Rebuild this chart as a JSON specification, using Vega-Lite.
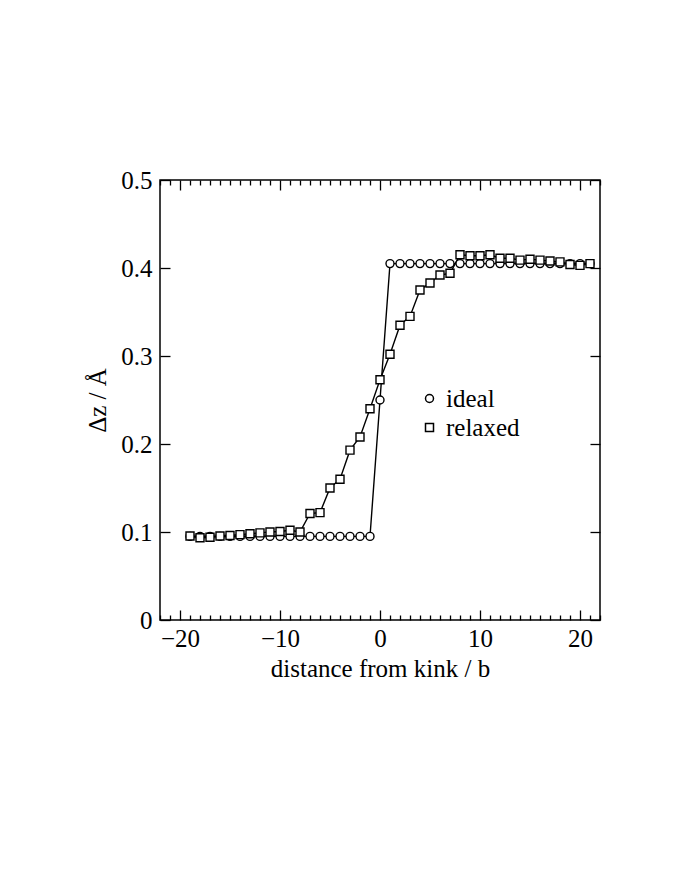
{
  "$schema": "https://vega.github.io/schema/vega-lite/v6.json",
  "autosize": "none",
  "width": 440,
  "height": 440,
  "padding": {"left": 160, "top": 180, "right": 80, "bottom": 260},
  "background": "white",
  "config": {
    "font": "Liberation Serif",
    "view": {"stroke": "black", "strokeWidth": 1.5},
    "axis": {"domain": false, "grid": false, "tickColor": "black", "tickWidth": 1.3, "labelColor": "black", "titleColor": "black", "labelFont": "Liberation Serif", "titleFont": "Liberation Serif", "labelFontSize": 25, "titleFontSize": 25, "titleFontWeight": "normal"},
    "legend": {"labelFont": "Liberation Serif", "labelFontSize": 25, "labelColor": "black"}
  },
  "data": {
    "values": [
      {"x": -19, "dz": 0.095, "series": "ideal"},
      {"x": -18, "dz": 0.095, "series": "ideal"},
      {"x": -17, "dz": 0.095, "series": "ideal"},
      {"x": -16, "dz": 0.095, "series": "ideal"},
      {"x": -15, "dz": 0.095, "series": "ideal"},
      {"x": -14, "dz": 0.095, "series": "ideal"},
      {"x": -13, "dz": 0.095, "series": "ideal"},
      {"x": -12, "dz": 0.095, "series": "ideal"},
      {"x": -11, "dz": 0.095, "series": "ideal"},
      {"x": -10, "dz": 0.095, "series": "ideal"},
      {"x": -9, "dz": 0.095, "series": "ideal"},
      {"x": -8, "dz": 0.095, "series": "ideal"},
      {"x": -7, "dz": 0.095, "series": "ideal"},
      {"x": -6, "dz": 0.095, "series": "ideal"},
      {"x": -5, "dz": 0.095, "series": "ideal"},
      {"x": -4, "dz": 0.095, "series": "ideal"},
      {"x": -3, "dz": 0.095, "series": "ideal"},
      {"x": -2, "dz": 0.095, "series": "ideal"},
      {"x": -1, "dz": 0.095, "series": "ideal"},
      {"x": 0, "dz": 0.25, "series": "ideal"},
      {"x": 1, "dz": 0.405, "series": "ideal"},
      {"x": 2, "dz": 0.405, "series": "ideal"},
      {"x": 3, "dz": 0.405, "series": "ideal"},
      {"x": 4, "dz": 0.405, "series": "ideal"},
      {"x": 5, "dz": 0.405, "series": "ideal"},
      {"x": 6, "dz": 0.405, "series": "ideal"},
      {"x": 7, "dz": 0.405, "series": "ideal"},
      {"x": 8, "dz": 0.405, "series": "ideal"},
      {"x": 9, "dz": 0.405, "series": "ideal"},
      {"x": 10, "dz": 0.405, "series": "ideal"},
      {"x": 11, "dz": 0.405, "series": "ideal"},
      {"x": 12, "dz": 0.405, "series": "ideal"},
      {"x": 13, "dz": 0.405, "series": "ideal"},
      {"x": 14, "dz": 0.405, "series": "ideal"},
      {"x": 15, "dz": 0.405, "series": "ideal"},
      {"x": 16, "dz": 0.405, "series": "ideal"},
      {"x": 17, "dz": 0.405, "series": "ideal"},
      {"x": 18, "dz": 0.405, "series": "ideal"},
      {"x": 19, "dz": 0.405, "series": "ideal"},
      {"x": 20, "dz": 0.405, "series": "ideal"},
      {"x": 21, "dz": 0.405, "series": "ideal"},
      {"x": -19, "dz": 0.0955, "series": "relaxed"},
      {"x": -18, "dz": 0.0935, "series": "relaxed"},
      {"x": -17, "dz": 0.094, "series": "relaxed"},
      {"x": -16, "dz": 0.0955, "series": "relaxed"},
      {"x": -15, "dz": 0.096, "series": "relaxed"},
      {"x": -14, "dz": 0.097, "series": "relaxed"},
      {"x": -13, "dz": 0.098, "series": "relaxed"},
      {"x": -12, "dz": 0.099, "series": "relaxed"},
      {"x": -11, "dz": 0.1, "series": "relaxed"},
      {"x": -10, "dz": 0.1005, "series": "relaxed"},
      {"x": -9, "dz": 0.102, "series": "relaxed"},
      {"x": -8, "dz": 0.1, "series": "relaxed"},
      {"x": -7, "dz": 0.121, "series": "relaxed"},
      {"x": -6, "dz": 0.122, "series": "relaxed"},
      {"x": -5, "dz": 0.15, "series": "relaxed"},
      {"x": -4, "dz": 0.16, "series": "relaxed"},
      {"x": -3, "dz": 0.193, "series": "relaxed"},
      {"x": -2, "dz": 0.208, "series": "relaxed"},
      {"x": -1, "dz": 0.24, "series": "relaxed"},
      {"x": 0, "dz": 0.273, "series": "relaxed"},
      {"x": 1, "dz": 0.302, "series": "relaxed"},
      {"x": 2, "dz": 0.335, "series": "relaxed"},
      {"x": 3, "dz": 0.345, "series": "relaxed"},
      {"x": 4, "dz": 0.375, "series": "relaxed"},
      {"x": 5, "dz": 0.383, "series": "relaxed"},
      {"x": 6, "dz": 0.392, "series": "relaxed"},
      {"x": 7, "dz": 0.394, "series": "relaxed"},
      {"x": 8, "dz": 0.415, "series": "relaxed"},
      {"x": 9, "dz": 0.414, "series": "relaxed"},
      {"x": 10, "dz": 0.414, "series": "relaxed"},
      {"x": 11, "dz": 0.415, "series": "relaxed"},
      {"x": 12, "dz": 0.411, "series": "relaxed"},
      {"x": 13, "dz": 0.411, "series": "relaxed"},
      {"x": 14, "dz": 0.409, "series": "relaxed"},
      {"x": 15, "dz": 0.41, "series": "relaxed"},
      {"x": 16, "dz": 0.409, "series": "relaxed"},
      {"x": 17, "dz": 0.408, "series": "relaxed"},
      {"x": 18, "dz": 0.407, "series": "relaxed"},
      {"x": 19, "dz": 0.404, "series": "relaxed"},
      {"x": 20, "dz": 0.403, "series": "relaxed"},
      {"x": 21, "dz": 0.405, "series": "relaxed"}
    ]
  },
  "resolve": {"axis": {"x": "independent", "y": "independent"}},
  "layer": [
    {
      "mark": {"type": "line", "color": "black", "strokeWidth": 1.4},
      "encoding": {
        "x": {"field": "x", "type": "quantitative", "scale": {"domain": [-22, 22], "nice": false},
          "axis": {"orient": "bottom", "values": [-20, -10, 0, 10, 20], "tickSize": -10, "labelPadding": 16, "title": "distance from kink / b", "titlePadding": 5}},
        "y": {"field": "dz", "type": "quantitative", "scale": {"domain": [0, 0.5], "nice": false},
          "axis": {"orient": "left", "values": [0, 0.1, 0.2, 0.3, 0.4, 0.5], "tickSize": -10, "labelPadding": 18, "labelExpr": "datum.value == 0 ? '0' : format(datum.value, '.1f')", "title": "Δz / Å", "titlePadding": 10}},
        "detail": {"field": "series"}
      }
    },
    {
      "mark": {"type": "point", "filled": true, "fill": "white", "stroke": "black", "strokeWidth": 1.4, "size": 64, "opacity": 1},
      "encoding": {
        "x": {"field": "x", "type": "quantitative", "axis": null},
        "y": {"field": "dz", "type": "quantitative", "axis": null},
        "shape": {"field": "series", "type": "nominal", "scale": {"domain": ["ideal", "relaxed"], "range": ["circle", "square"]},
          "legend": {"title": null, "orient": "none", "legendX": 257, "legendY": 206, "symbolSize": 64, "rowPadding": 3, "labelOffset": 4,
            "encode": {"symbols": {"update": {"fill": {"value": "white"}, "stroke": {"value": "black"}, "strokeWidth": {"value": 1.4}, "opacity": {"value": 1}}}}}}
      }
    },
    {
      "mark": {"type": "point", "opacity": 0},
      "encoding": {
        "x": {"field": "x", "type": "quantitative", "axis": {"orient": "top", "values": [-20, -10, 0, 10, 20], "tickSize": -10, "labels": false, "title": null}},
        "y": {"field": "dz", "type": "quantitative", "axis": {"orient": "right", "values": [0, 0.1, 0.2, 0.3, 0.4, 0.5], "tickSize": -10, "labels": false, "title": null}}
      }
    },
    {
      "mark": {"type": "point", "opacity": 0},
      "encoding": {
        "x": {"field": "x", "type": "quantitative", "axis": {"orient": "bottom", "values": [-22, -21, -19, -18, -17, -16, -15, -14, -13, -12, -11, -9, -8, -7, -6, -5, -4, -3, -2, -1, 1, 2, 3, 4, 5, 6, 7, 8, 9, 11, 12, 13, 14, 15, 16, 17, 18, 19, 21, 22], "tickSize": -5, "labels": false, "title": null}},
        "y": {"field": "dz", "type": "quantitative", "axis": null}
      }
    },
    {
      "mark": {"type": "point", "opacity": 0},
      "encoding": {
        "x": {"field": "x", "type": "quantitative", "axis": {"orient": "top", "values": [-22, -21, -19, -18, -17, -16, -15, -14, -13, -12, -11, -9, -8, -7, -6, -5, -4, -3, -2, -1, 1, 2, 3, 4, 5, 6, 7, 8, 9, 11, 12, 13, 14, 15, 16, 17, 18, 19, 21, 22], "tickSize": -5, "labels": false, "title": null}},
        "y": {"field": "dz", "type": "quantitative", "axis": null}
      }
    }
  ]
}
